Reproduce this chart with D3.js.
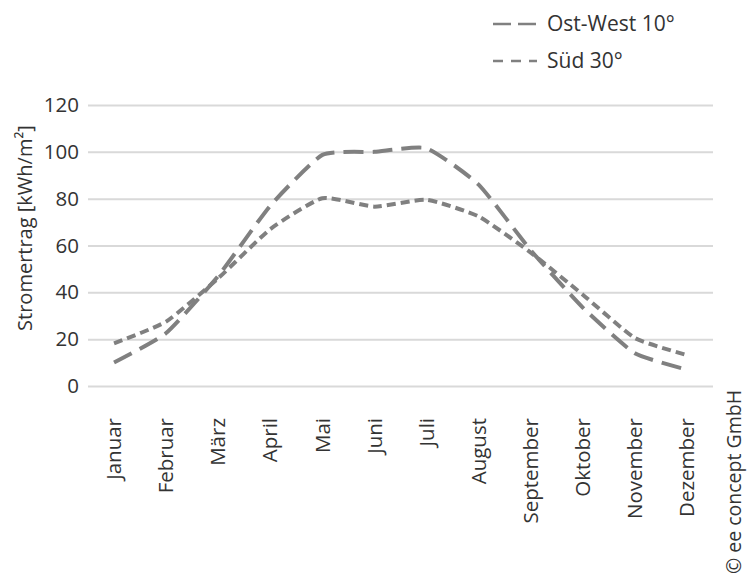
<!DOCTYPE html>
<html>
<head>
<meta charset="utf-8">
<script src="https://cdn.jsdelivr.net/npm/d3@7"></script>
<style>
  html, body { margin: 0; padding: 0; background: #fff; }
  svg { display: block; }
  text { font-family: "Open Sans", "Noto Sans", sans-serif; fill: #333; }
</style>
</head>
<body>
<script>
const months = ["Januar","Februar","März","April","Mai","Juni","Juli","August","September","Oktober","November","Dezember"];
const ostWest = [10, 22.6, 47, 77, 98.7, 100, 101.5, 86, 58, 33.5, 14, 7];
const sued = [18.2, 27.5, 46, 67, 80.2, 76.6, 79.5, 72.4, 57, 39, 20.5, 13.2];
const yTicks = [0, 20, 40, 60, 80, 100, 120];
const seriesNames = ["Ost-West 10°", "Süd 30°"];
const yTitle = "Stromertrag [kWh/m²]";
const copyright = "© ee concept GmbH";

(function () {
const W = 750, H = 574;
const mLeft = 88, mRight = 713, mTop = 105, mBottom = 386;
const fs = 20.5;

const svg = d3.select("body").append("svg").attr("width", W).attr("height", H);

const x = d3.scaleBand().domain(months).range([mLeft, mRight]).padding(0);
const y = d3.scaleLinear().domain([0, 120]).range([mBottom, mTop]);

// grid + y axis
const yAxis = svg.append("g").attr("transform", `translate(${mLeft},0)`)
  .call(d3.axisLeft(y).tickValues(yTicks).tickSize(-(mRight - mLeft)).tickPadding(10).tickFormat(d3.format("d")));
yAxis.select(".domain").remove();
yAxis.selectAll(".tick line").attr("stroke", "#d9d9d9").attr("stroke-width", 2);
yAxis.selectAll(".tick text").attr("font-size", fs).attr("fill", "#333")
  .style("font-family", '"Open Sans", sans-serif').attr("x", -9);

// x axis labels
const xAxis = svg.append("g").attr("transform", `translate(0,${mBottom})`)
  .call(d3.axisBottom(x).tickSize(0));
xAxis.select(".domain").remove();
xAxis.selectAll(".tick text")
  .attr("font-size", fs).attr("fill", "#333")
  .style("font-family", '"Open Sans", sans-serif')
  .attr("transform", "rotate(-90)")
  .attr("text-anchor", "end")
  .attr("x", -32).attr("y", 0).attr("dy", "0.35em");

// lines
const line = d3.line()
  .x((d, i) => x(months[i]) + x.bandwidth() / 2)
  .y(d => y(d))
  .curve(d3.curveCardinal.tension(0.5));

const styles = [
  { data: ostWest, dash: "20,9" },
  { data: sued, dash: "9,5" }
];
styles.forEach(s => {
  svg.append("path").datum(s.data)
    .attr("d", line)
    .attr("fill", "none")
    .attr("stroke", "#808080")
    .attr("stroke-width", 4)
    .attr("stroke-dasharray", s.dash);
});

// legend
const legendDash = ["18,7", "10,8"];
const legendY = [24, 61];
seriesNames.forEach((n, i) => {
  svg.append("line")
    .attr("x1", 493).attr("x2", 537)
    .attr("y1", legendY[i]).attr("y2", legendY[i])
    .attr("stroke", "#808080").attr("stroke-width", 2.5)
    .attr("stroke-dasharray", legendDash[i]);
  svg.append("text")
    .attr("x", 547).attr("y", legendY[i]).attr("dy", "0.35em")
    .attr("font-size", fs + 0.5).text(n);
});

// y title
svg.append("text")
  .attr("transform", `translate(25,228) rotate(-90)`)
  .attr("text-anchor", "middle").attr("dy", "0.35em")
  .attr("font-size", fs - 0.5).text(yTitle);

// copyright
svg.append("text")
  .attr("transform", `translate(734,482) rotate(-90)`)
  .attr("text-anchor", "middle").attr("dy", "0.35em")
  .attr("font-size", fs - 1).text(copyright);
})();
</script>
</body>
</html>
